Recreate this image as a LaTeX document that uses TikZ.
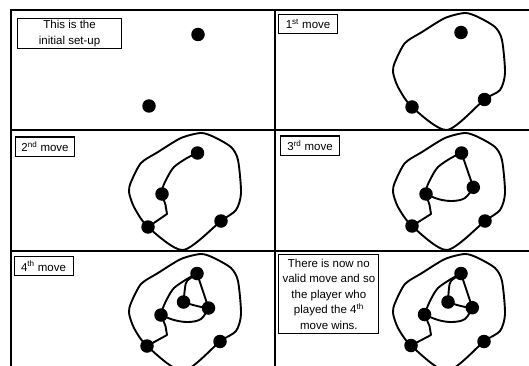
\documentclass[tikz,border=0pt]{standalone}
\usepackage{fontspec}
\setmainfont{Liberation Sans}
\tikzset{
  dot/.style={circle, fill=black, inner sep=0pt, minimum size=13.5pt},
  curve/.style={line width=1.9pt, line join=round, line cap=round},
  gridline/.style={line width=1.3pt},
  labelbox/.style={draw, line width=1.1pt, inner sep=0pt, anchor=north west, align=center,
    font=\fontsize{11.5}{15.5}\selectfont},
  movebox/.style={labelbox, minimum width=59pt, minimum height=19pt},
}
\newcommand\sproutloop{%
  \draw[curve] plot[smooth cycle, tension=0.45] coordinates {(190,3) (203,7) (220,17) (227,30) (230,63) (225,80) (BR.center) (172,120) (BL.center) (123,77) (118,62) (120,52) (130,33) (147,22) (170,8)};}
\newcommand\sproutsecond{%
  \draw[curve] plot[smooth, tension=0.5] coordinates {(T.center) (176,28) (163,37) (156,48) (151.5,58) (M.center)};
  \draw[curve] (M.center) -- (154.5,75) -- (156,84) -- (BL.center);}
\newcommand\sproutthird{%
  \draw[curve] (T.center) -- (N.center);
  \draw[curve] plot[smooth, tension=0.6] coordinates {(N.center) (190,68) (177,71) (163,69) (M.center)};}
\newcommand\sproutfourth{%
  \draw[curve] plot[smooth, tension=0.5] coordinates {(T.center) (176,30) (174,37) (P.center)};
  \draw[curve] plot[smooth, tension=0.5] coordinates {(P.center) (182,54) (190.5,56) (N.center)};}
\begin{document}
\begin{tikzpicture}[x=1pt,y=-1pt]
\useasboundingbox (0,0) rectangle (529,366);
\fill[white] (0,0) rectangle (529,366);
% grid
\draw[gridline] (11,366) -- (11,10) -- (529,10);
\draw[gridline] (275,10) -- (275,366);
\draw[gridline] (11,130) -- (529,130);
\draw[gridline] (11,251) -- (529,251);
% panel A: initial
\begin{scope}[shift={(11,10)}, name prefix=a-]
  \node[labelbox, minimum width=104pt, minimum height=30pt] (lab) at (6,8) {This is the\\initial set-up};
  \node[dot] (T) at (187,24.5) {};
  \node[dot] (BL) at (138,96) {};
\end{scope}
% panel B: 1st move
\begin{scope}[shift={(275,10)}, name prefix=b-]
  \node[movebox] (lab) at (3,4) {1\textsuperscript{st} move};
  \node[dot] (T) at (186,22.5) {};
  \node[dot] (BL) at (137,97) {};
  \node[dot] (BR) at (209.5,89.5) {};
  \sproutloop
\end{scope}
% panel C: 2nd move
\begin{scope}[shift={(11,130)}, name prefix=c-]
  \node[movebox] (lab) at (4,6.5) {2\textsuperscript{nd} move};
  \node[dot] (T) at (186.5,23) {};
  \node[dot] (BL) at (137,97) {};
  \node[dot] (BR) at (210,91) {};
  \node[dot] (M) at (151,64) {};
  \sproutloop
  \sproutsecond
\end{scope}
% panel D: 3rd move
\begin{scope}[shift={(275,130)}, name prefix=d-]
  \node[movebox] (lab) at (5,5.5) {3\textsuperscript{rd} move};
  \node[dot] (T) at (186.5,23) {};
  \node[dot] (BL) at (137,96) {};
  \node[dot] (BR) at (210,91) {};
  \node[dot] (M) at (151,64) {};
  \node[dot] (N) at (198.3,57.3) {};
  \sproutloop
  \sproutsecond
  \sproutthird
\end{scope}
% panel E: 4th move
\begin{scope}[shift={(11,251)}, name prefix=e-]
  \node[movebox] (lab) at (2.5,5) {4\textsuperscript{th} move};
  \node[dot] (T) at (186,22.5) {};
  \node[dot] (BL) at (136,95) {};
  \node[dot] (BR) at (209,90.5) {};
  \node[dot] (M) at (150,64) {};
  \node[dot] (N) at (197.5,57) {};
  \node[dot] (P) at (172.5,51) {};
  \sproutloop
  \sproutsecond
  \sproutthird
  \sproutfourth
\end{scope}
% panel F: final
\begin{scope}[shift={(275,251)}, name prefix=f-]
  \node[labelbox, minimum width=100pt, minimum height=79pt] (lab) at (3.3,3.3)
    {There is now no\\valid move and so\\the player who\\played the 4\textsuperscript{th}\\move wins.};
  \node[dot] (T) at (186,22.5) {};
  \node[dot] (BL) at (136,94.5) {};
  \node[dot] (BR) at (209,90.5) {};
  \node[dot] (M) at (149.5,63.5) {};
  \node[dot] (N) at (197.3,56.7) {};
  \node[dot] (P) at (173,51) {};
  \sproutloop
  \sproutsecond
  \sproutthird
  \sproutfourth
\end{scope}
\end{tikzpicture}
\end{document}
